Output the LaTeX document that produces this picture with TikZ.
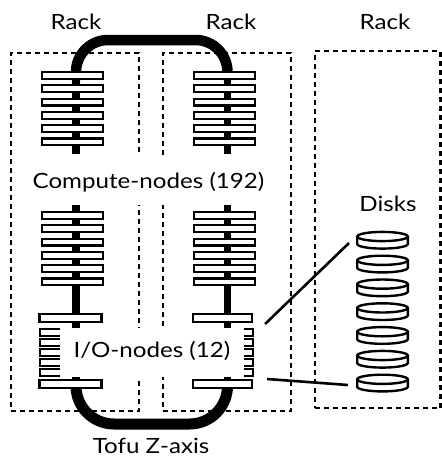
\documentclass[tikz,border=0pt]{standalone}
\usepackage{fontspec}
\setmainfont{Lato}[FakeStretch=1.15]
\usetikzlibrary{calc}
\begin{document}
\begin{tikzpicture}[x=1pt,y=-1pt,
  rackbox/.style={draw, dash pattern=on 5pt off 4pt, line width=2.5pt, inner sep=0pt},
  cnode/.style={draw, fill=white, line width=2.2pt, minimum width=61pt, minimum height=6.8pt, inner sep=0pt},
  stub/.style={draw, fill=white, line width=2pt, minimum width=61pt, minimum height=6.5pt, inner sep=0pt},
  spine/.style={line width=7.5pt},
  tofu/.style={line width=11pt, rounded corners=34pt},
  mask/.style={fill=white, inner sep=0pt},
  lbl/.style={font=\fontsize{21}{25}\selectfont, inner sep=0pt},
  link/.style={line width=2.6pt},
  disk/.style={line width=2.4pt}
]
\useasboundingbox (0,0) rectangle (442,459);

% racks
\node[rackbox, minimum width=128pt, minimum height=358pt] (rackA) at (75,232) {};
\node[rackbox, minimum width=128pt, minimum height=358pt] (rackB) at (227,232) {};
\node[rackbox, minimum width=125.5pt, minimum height=357pt] (rackC) at (377.75,229.5) {};

% rack titles
\node[lbl, anchor=base] (tA) at (76,29.5) {Rack};
\node[lbl, anchor=base] (tB) at (231,29.5) {Rack};
\node[lbl, anchor=base] (tC) at (385,29.5) {Rack};

% spines
\coordinate (sAtop) at (76,72);
\coordinate (sAmid) at (76,154);
\coordinate (sAlow) at (76,205);
\coordinate (sAbot) at (76,384);
\coordinate (sBtop) at (227.5,72);
\coordinate (sBmid) at (227.5,154);
\coordinate (sBlow) at (227.5,205);
\coordinate (sBbot) at (227.5,384);
\draw[spine] (sAtop) -- (sAmid);
\draw[spine] (sAlow) -- (sAbot);
\draw[spine] (sBtop) -- (sBmid);
\draw[spine] (sBlow) -- (sBbot);

% Tofu Z-axis links between the two racks
\draw[tofu, line width=10.5pt, rounded corners=32pt] (76,80) -- (76,40) -- (227.5,40) -- (227.5,80);
\draw[tofu, rounded corners=38pt] (76,380) -- (76,424) -- (227.5,424) -- (227.5,380);

% compute nodes
\foreach \k in {0,...,5} {
  \node[cnode] (cAu\k) at (72.5,{75.4+13.3*\k}) {};
  \node[cnode] (cAl\k) at (72.5,{215.4+13.3*\k}) {};
  \node[cnode] (cBu\k) at (224.5,{75.4+13.3*\k}) {};
  \node[cnode] (cBl\k) at (224.5,{215.4+13.3*\k}) {};
}

% I/O nodes
\foreach \y [count=\i] in {332.5,342.5,352.5,362.5,372.5} {
  \node[stub] (sA\i) at (70.5,\y) {};
  \node[stub] (sB\i) at (222.5,\y) {};
}
\node[cnode, minimum width=62pt, minimum height=7.5pt] (ioAt) at (70.5,318) {};
\node[cnode, minimum width=62pt, minimum height=7.5pt] (ioAb) at (70.5,384) {};
\node[cnode, minimum width=59pt, minimum height=7.5pt] (ioBt) at (222.5,318) {};
\node[cnode, minimum width=59pt, minimum height=7.5pt] (ioBb) at (222.5,384) {};

% labels
\node[mask, minimum width=258pt, minimum height=50pt] (cmask) at (150,180) {};
\node[lbl, anchor=base] (clabel) at (148.5,188) {Compute-nodes (192)};
\node[mask, minimum width=184pt, minimum height=49pt] (iomask) at (152,352.5) {};
\node[lbl, anchor=base] (iolabel) at (152,357) {I/O-nodes (12)};
\node[lbl, anchor=base] (tofulabel) at (151,453) {Tofu Z-axis};
\node[lbl, anchor=base] (dlabel) at (388,211) {Disks};

% disks: a short cylinder each
\foreach \k in {1,...,7} {
  \coordinate (d\k) at (382.5,{236.5+23.8*(\k-1)});
  \draw[disk] ($(d\k)+(-25.3,0)$) -- ++(0,7.5) arc[start angle=180, end angle=360, x radius=25.3, y radius=-4.6] -- ++(0,-7.5);
  \draw[disk] (d\k) ellipse[x radius=25.3, y radius=4.6];
}
\coordinate (dl1) at ($(d1)+(-33.5,6.5)$);
\coordinate (dl7) at ($(d7)+(-34.5,5.7)$);

% links from the I/O nodes to the disks
\coordinate (ioBtr) at ($(ioBt.east)+(12,6)$);
\coordinate (ioBbr) at ($(ioBb.east)+(14,-5)$);
\draw[link] (ioBtr) -- (dl1);
\draw[link] (ioBbr) -- (dl7);
\end{tikzpicture}
\end{document}
